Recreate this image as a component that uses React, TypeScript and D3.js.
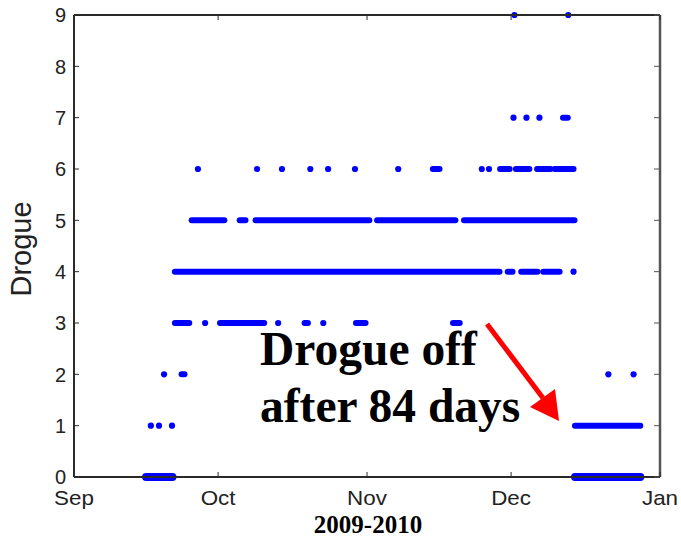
import React from "react";
import * as d3 from "d3";

// Drogue level observations, time in days since 2009-09-01
// Runs: dense sequences of observations [level, startDay, endDay]
const drogueRuns: [number, number, number][] = [
  [0, 15.0, 20.5], [0, 104.3, 117.9],
  [1, 104.3, 117.9],
  [2, 22.4, 23.0],
  [3, 21.0, 24.0], [3, 30.4, 39.6], [3, 48.0, 48.7], [3, 58.7, 60.7], [3, 78.9, 80.3],
  [4, 21.0, 88.6], [4, 90.3, 91.3], [4, 93.1, 96.5], [4, 97.7, 101.1],
  [5, 24.5, 31.3], [5, 34.5, 35.7], [5, 37.8, 61.5], [5, 63.1, 79.4], [5, 81.2, 104.2],
  [6, 74.7, 76.1], [6, 88.7, 90.7], [6, 92.0, 94.8], [6, 96.4, 99.2], [6, 100.1, 104.0],
  [7, 101.8, 102.8],
];
// Isolated observations [level, day]
const droguePoints: [number, number][] = [
  [1, 16.0], [1, 17.7], [1, 20.4],
  [2, 18.75], [2, 111.25], [2, 116.5],
  [3, 27.3], [3, 42.5], [3, 51.9],
  [4, 104.0],
  [6, 25.8], [6, 38.1], [6, 43.3], [6, 49.2], [6, 52.9], [6, 58.5], [6, 67.5], [6, 84.9], [6, 86.4],
  [7, 91.5], [7, 94.2], [7, 96.9],
  [9, 91.7], [9, 102.9],
];
const yTicks = [0, 1, 2, 3, 4, 5, 6, 7, 8, 9];
const startDate = new Date(2009, 8, 1);
const endDate = new Date(2010, 0, 1);
const yLabel = "Drogue";
const xLabel = "2009-2010";
const noteLines = ["Drogue off", "after 84 days"];

const W = 681, H = 540;
const L = 74, R = 660, T = 15, B = 477;

const dayToDate = (d: number) => new Date(startDate.getTime() + d * 864e5);

export default function App() {
  const x = d3.scaleTime().domain([startDate, endDate]).range([L, R]);
  const y = d3.scaleLinear().domain([0, 9]).range([B, T]);
  const months = x.ticks(d3.timeMonth.every(1) as any);
  const fmt = d3.timeFormat("%b");
  const blue = "#0000ff";
  const axisCol = "#2a2a2a";
  const sans = "Arial, 'Liberation Sans', Helvetica, sans-serif";
  const serif = "'Times New Roman', 'Liberation Serif', Times, serif";

  return (
    <svg width={W} height={H} style={{ position: "absolute", left: 0, top: 0, background: "#fff" }}>
      <rect x={0} y={0} width={W} height={H} fill="#fff" />
      {/* data */}
      <g>
        {drogueRuns.map(([lv, s, e], i) => (
          <line key={"r" + i} x1={x(dayToDate(s))} x2={x(dayToDate(e))} y1={y(lv)} y2={y(lv)}
            stroke={blue} strokeWidth={lv === 0 ? 8 : 6} strokeLinecap="round" />
        ))}
        {droguePoints.map(([lv, d], i) => (
          <circle key={"p" + i} cx={x(dayToDate(d))} cy={y(lv)} r={3.1} fill={blue} />
        ))}
      </g>
      {/* frame */}
      <line x1={L} x2={R} y1={T} y2={T} stroke={axisCol} strokeWidth={2} />
      <line x1={R} x2={R} y1={T} y2={B} stroke="#555" strokeWidth={2.5} />
      <line x1={L} x2={L} y1={T} y2={B} stroke={axisCol} strokeWidth={2} />
      <line x1={L} x2={R} y1={B} y2={B} stroke={axisCol} strokeWidth={2} />
      {/* y ticks */}
      {yTicks.map((t) => (
        <g key={"y" + t}>
          <line x1={L} x2={L + 5} y1={y(t)} y2={y(t)} stroke={axisCol} strokeWidth={1} />
          <line x1={R - 6} x2={R} y1={y(t)} y2={y(t)} stroke="#555" strokeWidth={1} />
          <text x={L - 8} y={y(t)} dy="0.36em" textAnchor="end" fontFamily={sans} fontSize={20} fill="#222">{t}</text>
        </g>
      ))}
      {/* x ticks */}
      {months.map((m, i) => (
        <g key={"x" + i}>
          <line x1={x(m)} x2={x(m)} y1={B} y2={B - 5} stroke={axisCol} strokeWidth={1} />
          <line x1={x(m)} x2={x(m)} y1={T} y2={T + 5} stroke={axisCol} strokeWidth={1} />
          <text x={x(m)} y={B + 28} textAnchor="middle" fontFamily={sans} fontSize={20} fill="#222"
            transform={`translate(${x(m)},0) scale(1.12,1) translate(${-x(m)},0)`}>{fmt(m)}</text>
        </g>
      ))}
      {/* labels */}
      <text transform={`translate(31,249) rotate(-90)`} textAnchor="middle" fontFamily={sans} fontSize={29} fill="#222">{yLabel}</text>
      <text x={368} y={533} textAnchor="middle" fontFamily={serif} fontWeight="bold" fontSize={25} fill="#000">{xLabel}</text>
      {/* annotation */}
      {noteLines.map((s, i) => (
        <text key={"n" + i} x={260} y={365 + i * 57} fontFamily={serif} fontWeight="bold" fontSize={47.5} fill="#000">{s}</text>
      ))}
      <line x1={487} y1={324} x2={543} y2={398} stroke="#ff0000" strokeWidth={5} />
      <polygon points="559,421 530,407 555,389" fill="#ff0000" />
    </svg>
  );
}
